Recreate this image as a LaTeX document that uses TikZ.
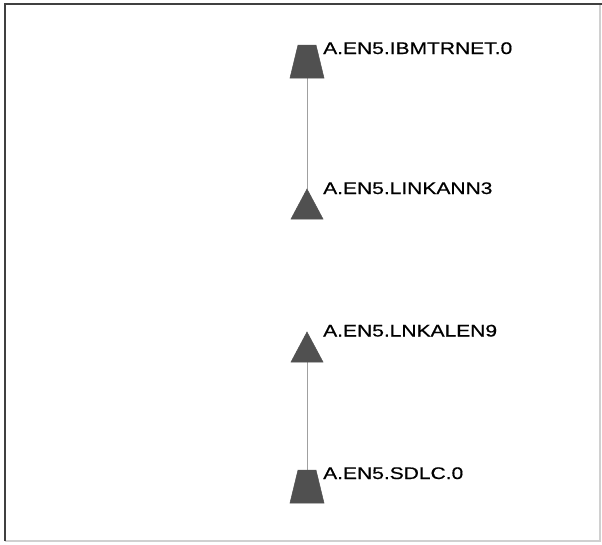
\documentclass[tikz,border=0pt]{standalone}
\usepackage{fontspec}
\newfontfamily\lblfont[FakeStretch=1.25,FakeBold=0.6]{Liberation Sans}
\definecolor{shapefill}{HTML}{505050}
\definecolor{linkgray}{HTML}{A0A0A0}
\definecolor{framedark}{HTML}{404040}
\definecolor{framelight}{HTML}{D0D0D0}
\begin{document}
\begin{tikzpicture}[x=1pt,y=-1pt,
  lbl/.style={anchor=base west,inner sep=0pt,font=\lblfont\fontsize{16.8}{18}\selectfont},
  shapestyle/.style={fill=shapefill,draw=shapefill,line width=0.5pt},
  link/.style={draw=linkgray,line width=1pt}]
\useasboundingbox (0,0) rectangle (602,544);
\fill[white] (0,0) rectangle (602,544);
% frame
\draw[framelight,line width=1.5pt] (5,541) -- (600,541) -- (600,4);
\draw[framedark,line width=2pt] (5,541) -- (5,4) -- (602,4);
% coordinates
\coordinate (n1top) at (307,45);
\coordinate (n1bot) at (307,78);
\coordinate (n2top) at (307,189);
\coordinate (n2bot) at (307,219);
\coordinate (n3top) at (307,332);
\coordinate (n3bot) at (307,362);
\coordinate (n4top) at (307,470);
\coordinate (n4bot) at (307,503);
% connectors
\draw[link] (n1bot) -- (n2top);
\draw[link] (n3bot) -- (n4top);
% shapes
\fill[shapestyle] ([xshift=-9pt]n1top) -- ([xshift=9pt]n1top) -- ([xshift=17pt]n1bot) -- ([xshift=-17pt]n1bot) -- cycle;
\fill[shapestyle] (n2top) -- ([xshift=16pt]n2bot) -- ([xshift=-16pt]n2bot) -- cycle;
\fill[shapestyle] (n3top) -- ([xshift=16pt]n3bot) -- ([xshift=-16pt]n3bot) -- cycle;
\fill[shapestyle] ([xshift=-9pt]n4top) -- ([xshift=9pt]n4top) -- ([xshift=17pt]n4bot) -- ([xshift=-17pt]n4bot) -- cycle;
% labels
\node[lbl] (l1) at (323,54) {A.EN5.IBMTRNET.0};
\node[lbl] (l2) at (323,194) {A.EN5.LINKANN3};
\node[lbl] (l3) at (323,336.5) {A.EN5.LNKALEN9};
\node[lbl] (l4) at (323,479) {A.EN5.SDLC.0};
\end{tikzpicture}
\end{document}
